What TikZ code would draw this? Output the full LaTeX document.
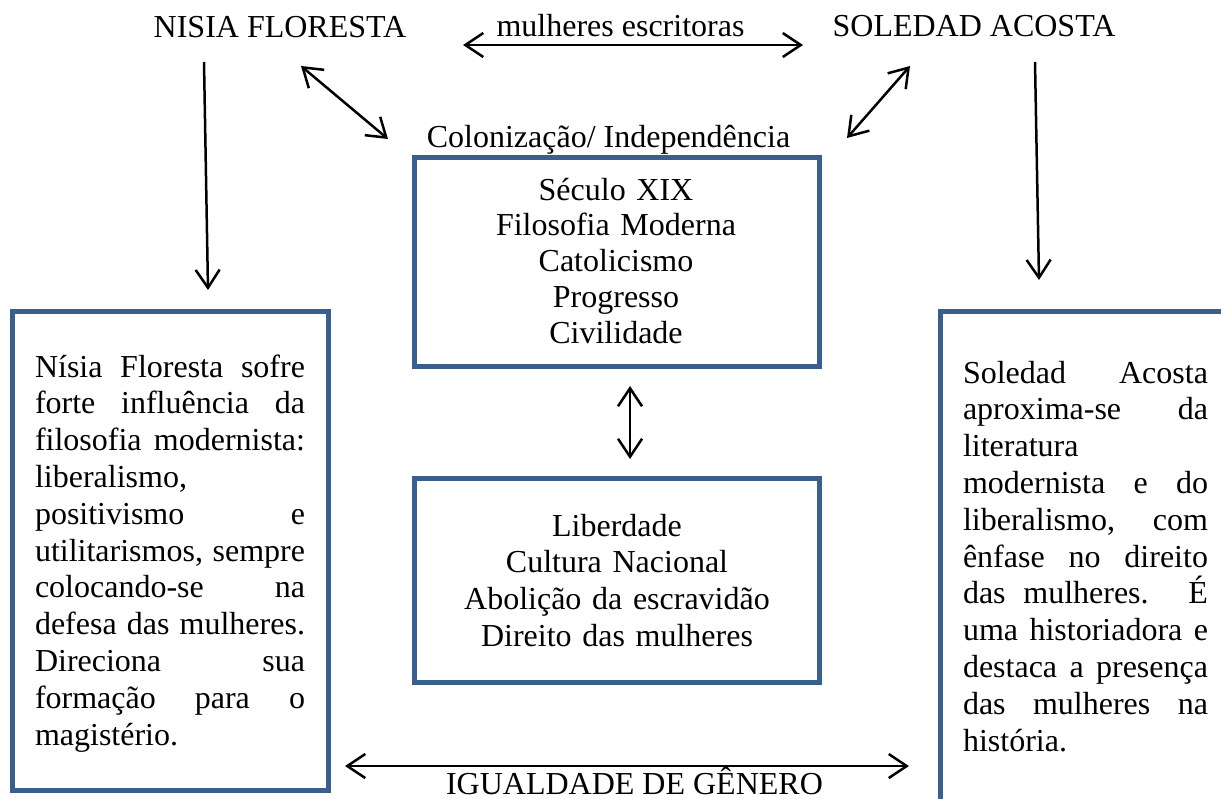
\documentclass[tikz,border=0pt]{standalone}
\usepackage{fontspec}
\setmainfont{Liberation Serif}
\usetikzlibrary{arrows.meta}
\definecolor{boxblue}{RGB}{58,95,140}
\begin{document}
\begin{tikzpicture}[x=0.5pt,y=-0.5pt,
  every node/.style={font=\fontsize{16}{18.4}\selectfont, inner sep=0pt, outer sep=0pt},
  lbl/.style={anchor=base},
  bluebox/.style={draw=boxblue, line width=2.5pt},
  tip/.tip={Straight Barb[length=9pt,width=12pt]},
  arr/.style={line width=1.25pt, -tip},
  darr/.style={line width=1.25pt, tip-tip},
  para/.style={anchor=base west, text width=135pt, align=justify,
    execute at begin node={\tolerance=10000\hyphenpenalty=10000\exhyphenpenalty=10000\hbadness=10000}}
]
\useasboundingbox (0,0) rectangle (1221,798);
\clip (0,0) rectangle (1221,798);

% titles
\node[lbl] (nisia) at (280,37) {NISIA FLORESTA};
\node[lbl] (escr) at (620.5,36) {mulheres escritoras};
\node[lbl] (soledad) at (974,36) {SOLEDAD ACOSTA};
\node[lbl] (colon) at (608.5,147) {Colonização/ Independência};

% central boxes
\node[bluebox, minimum width=202.5pt, minimum height=104.5pt] (topbox) at (616.5,261.5) {};
\node[anchor=base, text width=200pt, align=center, font=\fontsize{16}{17.9}\selectfont] (toptext) at (616,200)
  {Século XIX\\Filosofia Moderna\\Catolicismo\\Progresso\\Civilidade};
\node[bluebox, minimum width=202.5pt, minimum height=102pt] (midbox) at (616.5,580) {};
\node[anchor=base, text width=200pt, align=center] (midtext) at (617,536)
  {Liberdade\\Cultura Nacional\\Abolição da escravidão\\Direito das mulheres};

% side boxes
\node[bluebox, minimum width=158pt, minimum height=239.5pt] (lbox) at (170,550.5) {};
\node[para] (ltext) at (35,377) {Nísia Floresta sofre\linebreak forte influência da\linebreak filosofia modernista:\linebreak liberalismo,\linebreak positivismo e\linebreak utilitarismos, sempre\linebreak colocando-se na\linebreak defesa das mulheres.\linebreak Direciona sua\linebreak formação para o\linebreak magistério.};
\node[bluebox, minimum width=160pt, minimum height=259.5pt] (rbox) at (1100,570.5) {};
\node[para, text width=122.5pt] (rtext) at (963,383) {Soledad Acosta\linebreak aproxima-se da\linebreak literatura\linebreak modernista e do\linebreak liberalismo, com\linebreak ênfase no direito\linebreak das mulheres. É\linebreak uma historiadora e\linebreak destaca a presença\linebreak das mulheres na\linebreak história.};

\node[lbl] (igual) at (634.5,794) {IGUALDADE DE GÊNERO};

% connector ends
\coordinate (t1) at (463,45);
\coordinate (t2) at (803,45);
\coordinate (dl1) at (301,66);
\coordinate (dl2) at (388,139);
\coordinate (dr1) at (910,66);
\coordinate (dr2) at (847,138);
\coordinate (vl1) at (204,62);
\coordinate (vl2) at (208,290);
\coordinate (vr1) at (1035,62);
\coordinate (vr2) at (1039,280);
\coordinate (m1) at (630,386);
\coordinate (m2) at (630,459);
\coordinate (b1) at (345,766);
\coordinate (b2) at (909,766);

\draw[darr] (t1) -- (t2);
\draw[darr] (dl1) -- (dl2);
\draw[darr] (dr1) -- (dr2);
\draw[arr] (vl1) -- (vl2);
\draw[arr] (vr1) -- (vr2);
\draw[darr] (m1) -- (m2);
\draw[darr] (b1) -- (b2);
\end{tikzpicture}
\end{document}
